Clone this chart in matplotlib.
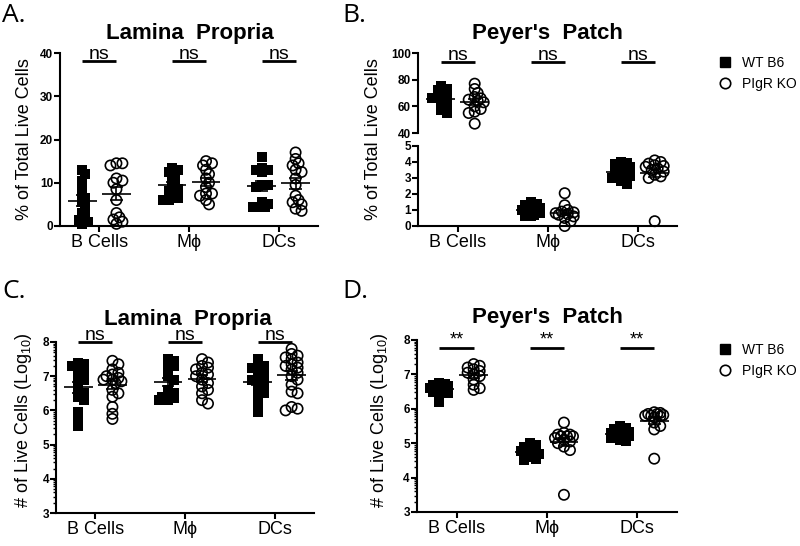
import numpy as np
import matplotlib.pyplot as plt

plt.rcParams['font.family'] = ['Liberation Sans', 'DejaVu Sans']
plt.rcParams['mathtext.default'] = 'regular'

categories = ['B Cells', 'M\u03d5', 'DCs']
groups = ['WT B6', 'PIgR KO']

# A: Lamina propria, % of total live cells
lp_pct_wt = [
    [13, 12, 10.5, 9, 7.5, 6.5, 5.5, 4.5, 3, 2, 1.5, 1, 0.5],
    [13.5, 13, 12.5, 12, 11, 10, 9, 8.5, 8, 7, 6.5, 6, 6],
    [16, 13.5, 13, 13, 12.5, 9.5, 9.5, 9, 5.5, 5, 4.5, 4.5, 4.5],
]
lp_pct_ko = [
    [14.5, 14.5, 14, 11, 10.5, 10, 8.5, 6, 3, 2, 1.5, 1, 0.5],
    [15, 14.5, 14, 13, 12, 11, 10, 9, 7.5, 7.5, 7, 6, 5],
    [17, 15.5, 14.5, 14, 13, 12.5, 11, 9.5, 7, 6, 5.5, 5, 4, 3.5],
]
# B: Peyer's patch, % of total live cells
pp_pct_wt = [
    [75, 73, 72, 70, 68, 67, 66, 65, 63, 61, 59, 57, 55],
    [1.5, 1.4, 1.3, 1.2, 1.1, 1.0, 1.0, 0.9, 0.8, 0.7, 0.6, 0.6],
    [4.0, 3.95, 3.9, 3.8, 3.7, 3.5, 3.4, 3.3, 3.2, 3.1, 3.0, 2.8, 2.6],
]
pp_pct_ko = [
    [77, 73, 70, 67, 66, 65, 64, 63, 60, 58, 56, 55, 47],
    [2.05, 1.3, 1.0, 0.9, 0.85, 0.8, 0.75, 0.7, 0.6, 0.5, 0.3, 0.0],
    [4.1, 4.0, 3.9, 3.8, 3.75, 3.7, 3.6, 3.5, 3.4, 3.2, 3.1, 3.0, 0.3],
]
# C: Lamina propria, log10 number of live cells
lp_log_wt = [
    [7.4, 7.35, 7.3, 7.2, 7.1, 7.0, 6.9, 6.85, 6.6, 6.5, 6.4, 6.3, 5.95, 5.7, 5.55],
    [7.5, 7.45, 7.35, 7.3, 7.2, 7.0, 6.9, 6.6, 6.5, 6.45, 6.4, 6.35, 6.3, 6.3],
    [7.5, 7.35, 7.3, 7.25, 7.2, 7.1, 7.0, 6.95, 6.9, 6.8, 6.7, 6.6, 6.5, 6.3, 6.1, 5.95],
]
lp_log_ko = [
    [7.45, 7.35, 7.2, 7.1, 7.05, 7.0, 6.95, 6.9, 6.9, 6.85, 6.8, 6.6, 6.5, 6.4, 6.1, 5.9, 5.75],
    [7.5, 7.4, 7.3, 7.25, 7.2, 7.1, 7.05, 7.0, 6.9, 6.8, 6.7, 6.6, 6.5, 6.3, 6.2],
    [7.8, 7.65, 7.6, 7.55, 7.5, 7.4, 7.35, 7.3, 7.25, 7.2, 7.1, 7.0, 6.9, 6.75, 6.55, 6.5, 6.1, 6.05, 6.0],
]
# D: Peyer's patch, log10 number of live cells
pp_log_wt = [
    [6.75, 6.72, 6.7, 6.68, 6.65, 6.62, 6.6, 6.58, 6.55, 6.5, 6.45, 6.35, 6.2],
    [5.0, 4.95, 4.9, 4.85, 4.8, 4.78, 4.75, 4.72, 4.7, 4.65, 4.6, 4.55, 4.5],
    [5.5, 5.45, 5.4, 5.35, 5.32, 5.3, 5.28, 5.25, 5.2, 5.15, 5.1, 5.05],
]
pp_log_ko = [
    [7.3, 7.25, 7.2, 7.15, 7.1, 7.05, 7.0, 6.95, 6.85, 6.7, 6.6, 6.55],
    [5.6, 5.3, 5.25, 5.25, 5.2, 5.2, 5.2, 5.15, 5.1, 5.05, 5.0, 4.9, 4.8, 3.5],
    [5.9, 5.88, 5.85, 5.85, 5.82, 5.8, 5.8, 5.78, 5.75, 5.6, 5.5, 5.4, 4.55],
]
sig_top = ['ns', 'ns', 'ns']
sig_bottom_lp = ['ns', 'ns', 'ns']
sig_bottom_pp = ['**', '**', '**']

OFF = 0.19


def swarm_offsets(vals, ppu_y, ppu_x=90.0, d=10.0, gap=0.5):
    # simple beeswarm in pixel space
    vals = np.asarray(vals, float)
    cand = [0, 3, -3, 6, -6, 9, -9]
    placed = []
    out = np.zeros(len(vals))
    for i in np.argsort(-vals):
        y = vals[i] * ppu_y
        best, best_m = 0, -1
        for c in cand:
            if not placed:
                best = c
                break
            m = min(np.hypot(c - px, y - py) for px, py in placed)
            if m >= gap * d:
                best = c
                break
            if m > best_m:
                best_m, best = m, c
        placed.append((best, y))
        out[i] = best / ppu_x
    return out


def draw_group(ax, x, vals, wt, ppu_y):
    vals = np.asarray(vals, float)
    offs = swarm_offsets(vals, ppu_y)
    if wt:
        ax.scatter(x + offs, vals, marker='s', s=50, c='black', lw=0,
                   clip_on=False, zorder=2)
    else:
        ax.scatter(x + offs, vals, marker='o', s=55, facecolors='none',
                   edgecolors='black', lw=1.2, clip_on=False, zorder=2)
    m = vals.mean()
    sem = vals.std(ddof=1) / np.sqrt(len(vals))
    ax.hlines(m, x - 0.16, x + 0.16, color='black', lw=1.2, zorder=3)
    ax.hlines([m - sem, m + sem], x - 0.07, x + 0.07, color='black', lw=1.2, zorder=3)
    ax.vlines(x, m - sem, m + sem, color='black', lw=1.2, zorder=3)


def style(ax, xaxis=True):
    for s in ['top', 'right']:
        ax.spines[s].set_visible(False)
    ax.spines['left'].set_linewidth(1.5)
    ax.spines['bottom'].set_linewidth(1.5)
    ax.tick_params(axis='y', direction='out', length=4, width=1.5, labelsize=8.5, pad=1)
    for lab in ax.get_yticklabels():
        lab.set_fontweight('bold')
    ax.set_xlim(-0.44, 2.44)
    if xaxis:
        ax.set_xticks(range(3))
        ax.set_xticklabels(categories, fontsize=13)
        ax.tick_params(axis='x', direction='out', length=4, width=1.5, pad=2)
    else:
        ax.spines['bottom'].set_visible(False)
        ax.set_xticks([])


def sig_bars(ax, y, labels, star=False):
    for i, lab in enumerate(labels):
        ax.plot([i - OFF, i + OFF], [y, y], color='black', lw=2, clip_on=False,
                solid_capstyle='butt')
        if star:
            ax.annotate(lab, (i, y), xytext=(0, 5.5), textcoords='offset points',
                        ha='center', va='center', fontsize=13, annotation_clip=False)
        else:
            ax.annotate(lab, (i, y), xytext=(0, 1.5), textcoords='offset points',
                        ha='center', va='baseline', fontsize=14, annotation_clip=False)


def log_minor(ax):
    minors = [n + np.log10(k) for n in range(3, 8) for k in range(2, 10)]
    ax.set_yticks(minors, minor=True)
    ax.tick_params(axis='y', which='minor', length=2, width=1)


fig = plt.figure(figsize=(8, 5.46), dpi=100)
H = 546.0

# panel A
axA = fig.add_axes([0.075, 1 - 226 / H, 0.3225, 173 / H])
axA.set_ylim(0, 40)
axA.set_yticks([0, 10, 20, 30, 40])
for i in range(3):
    draw_group(axA, i - OFF, lp_pct_wt[i], True, 173 / 40)
    draw_group(axA, i + OFF, lp_pct_ko[i], False, 173 / 40)
style(axA)
sig_bars(axA, 38.2, sig_top)

# panel B (broken axis)
axBt = fig.add_axes([0.5225, 1 - 133 / H, 0.324, 80 / H])
axBb = fig.add_axes([0.5225, 1 - 226 / H, 0.324, 80 / H])
axBt.set_ylim(40, 100)
axBt.set_yticks([40, 60, 80, 100])
axBb.set_ylim(0, 5)
axBb.set_yticks(range(6))
for i in range(3):
    ax = axBt if np.mean(pp_pct_wt[i]) > 20 else axBb
    ppu = 80 / 60 if ax is axBt else 80 / 5
    draw_group(ax, i - OFF, pp_pct_wt[i], True, ppu)
    draw_group(ax, i + OFF, pp_pct_ko[i], False, ppu)
style(axBt, xaxis=False)
style(axBb)
sig_bars(axBt, 93.2, sig_top)

# panel C
axC = fig.add_axes([0.07, 1 - 513 / H, 0.3225, 171 / H])
axC.set_ylim(3, 8)
axC.set_yticks(range(3, 9))
for i in range(3):
    draw_group(axC, i - OFF, lp_log_wt[i], True, 171 / 5)
    draw_group(axC, i + OFF, lp_log_ko[i], False, 171 / 5)
style(axC)
log_minor(axC)
sig_bars(axC, 8.0, sig_bottom_lp)

# panel D
axD = fig.add_axes([0.521, 1 - 512 / H, 0.325, 172 / H])
axD.set_ylim(3, 8)
axD.set_yticks(range(3, 9))
for i in range(3):
    draw_group(axD, i - OFF, pp_log_wt[i], True, 172 / 5)
    draw_group(axD, i + OFF, pp_log_ko[i], False, 172 / 5)
style(axD)
log_minor(axD)
sig_bars(axD, 7.77, sig_bottom_pp, star=True)

# titles, y labels, panel letters
fig.text(190 / 800, 1 - 33 / H, 'Lamina  Propria', ha='center', va='center',
         fontsize=16, fontweight='bold')
fig.text(547 / 800, 1 - 33 / H, "Peyer's  Patch", ha='center', va='center',
         fontsize=16, fontweight='bold')
fig.text(188 / 800, 1 - 320 / H, 'Lamina  Propria', ha='center', va='center',
         fontsize=16, fontweight='bold')
fig.text(547 / 800, 1 - 318 / H, "Peyer's  Patch", ha='center', va='center',
         fontsize=16, fontweight='bold')

fig.text(25 / 800, 1 - 139 / H, '% of Total Live Cells', rotation=90,
         ha='center', va='center', fontsize=13)
fig.text(373 / 800, 1 - 139 / H, '% of Total Live Cells', rotation=90,
         ha='center', va='center', fontsize=13)
fig.text(24 / 800, 1 - 420 / H, '# of Live Cells (Log$_{10}$)', rotation=90,
         ha='center', va='center', fontsize=13)
fig.text(379 / 800, 1 - 420 / H, '# of Live Cells (Log$_{10}$)', rotation=90,
         ha='center', va='center', fontsize=13)

for lab, x, y in [('A.', 2, 15), ('B.', 342, 15), ('C.', 2, 292), ('D.', 342, 292)]:
    fig.text(x / 800, 1 - y / H, lab, ha='left', va='center', fontsize=19,
             family=['Open Sans', 'DejaVu Sans'])

# legends
handles = [
    plt.Line2D([], [], marker='s', ls='none', color='black', ms=6.5),
    plt.Line2D([], [], marker='o', ls='none', mfc='none', mec='black', mew=1.2, ms=7.5),
]
for ax, ytop in [(axBb, 56), (axD, 343)]:
    ax.legend(handles, groups, loc='upper left', bbox_to_anchor=(718 / 800, 1 - ytop / H),
              bbox_transform=fig.transFigure, frameon=False, fontsize=10,
              handlelength=1.0, handletextpad=0.7, labelspacing=0.5,
              borderpad=0, borderaxespad=0)

fig.savefig('out.png', dpi=100)
